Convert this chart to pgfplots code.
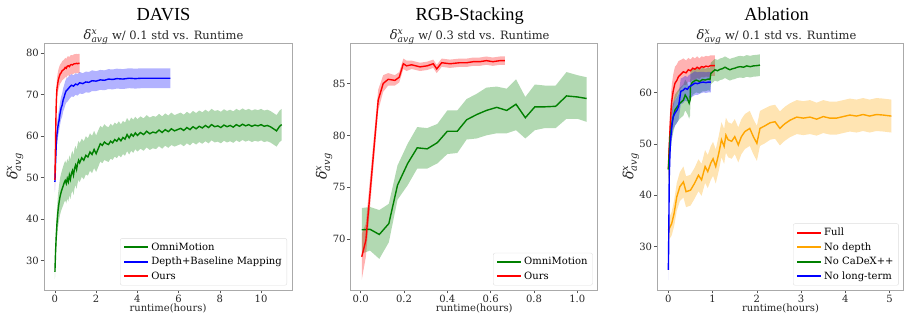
\documentclass[border=0pt]{standalone}
\usepackage{amsmath}
\usepackage{fontspec}
\setmainfont{DejaVu Serif}
\newfontfamily\titlefont{Liberation Serif}
\usepackage{pgfplots}
\usepackage{pgfplotstable}
\pgfplotsset{compat=1.18}
\usepgfplotslibrary{fillbetween}

\definecolor{mgreen}{HTML}{008000}
\definecolor{mred}{HTML}{FF0000}
\definecolor{mblue}{HTML}{0000FF}
\definecolor{morange}{HTML}{FFA500}
\definecolor{spine}{HTML}{AAAAAA}
\definecolor{tickc}{HTML}{555555}
\definecolor{txt}{HTML}{262626}
\definecolor{legbox}{HTML}{DDDDDD}

% delta^x_avg in DejaVu Serif Italic (as matplotlib mathtext)
\newcommand{\dlt}{\textit{δ}\ensuremath{^{\textit{x}}_{\textit{avg}}}}

% ---------------- DAVIS ----------------
\pgfplotstableread{
h m s
0.00 27.3 1.8
0.03 32 2.5
0.06 35.5 3
0.10 39 3.5
0.15 42 4
0.20 44 4.2
0.25 45.5 4.4
0.30 46.5 4.5
0.35 47.3 4.6
0.40 48.0 4.7
0.45 48.8 4.7
0.50 49.3 4.8
0.55 48.6 4.8
0.60 49.8 4.8
0.65 49.0 4.8
0.70 50.6 4.8
0.75 49.6 4.8
0.80 51.0 4.8
0.85 51.7 4.8
0.90 50.6 4.8
0.95 52.2 4.8
1.00 53.0 4.7
1.05 52.0 4.7
1.10 53.4 4.7
1.15 54.2 4.7
1.20 53.6 4.7
1.30 54.8 4.6
1.40 54.2 4.6
1.50 55.4 4.6
1.60 55.0 4.5
1.70 56.2 4.5
1.80 55.6 4.5
1.90 56.8 4.5
2.00 55.8 4.4
2.10 57.0 4.4
2.20 58.2 4.3
2.30 57.8 4.3
2.40 58.6 4.3
2.50 58.2 4.2
2.60 58.0 4.2
2.70 58.8 4.2
2.80 58.4 4.1
2.90 59.2 4.1
3.00 58.8 4.1
3.10 59.5 4.1
3.20 58.9 4.0
3.30 59.7 4.0
3.40 59.3 4.0
3.50 60.4 4.0
3.60 59.6 4.0
3.70 60.5 4.0
3.80 60.0 4.0
3.90 60.8 3.9
4.00 60.2 3.9
4.15 60.9 3.9
4.30 60.4 3.9
4.45 61.2 3.9
4.60 60.6 3.9
4.75 61.0 3.9
4.90 60.8 3.9
5.05 61.5 3.9
5.20 60.9 3.9
5.35 61.6 3.9
5.50 61.1 3.9
5.65 61.8 3.9
5.80 61.3 3.8
5.95 61.6 3.8
6.10 61.9 3.8
6.25 61.4 3.8
6.40 62.1 3.8
6.55 61.6 3.8
6.70 62.3 3.8
6.85 61.8 3.8
7.00 62.4 3.8
7.15 62.0 3.8
7.30 62.6 3.8
7.45 62.1 3.8
7.60 62.8 3.8
7.75 62.3 3.8
7.90 62.5 3.8
8.05 62.1 3.8
8.20 62.7 3.8
8.35 62.3 3.8
8.50 62.6 3.8
8.65 62.2 3.8
8.80 62.8 3.8
8.95 62.4 3.8
9.10 62.9 3.8
9.25 62.5 3.8
9.40 62.8 3.8
9.55 62.4 3.8
9.70 62.7 3.8
9.85 62.5 3.8
10.00 62.8 3.8
10.15 62.4 3.8
10.30 62.6 3.8
10.45 62.3 3.8
10.60 61.8 3.8
10.75 61.3 3.8
10.90 62.4 3.8
11.00 62.8 3.8
}\dGreen

\pgfplotstableread{
h m s
0.00 49 2.5
0.02 52 2.5
0.04 55 2.5
0.07 58.5 2.5
0.10 60.5 2.5
0.15 62.5 2.6
0.20 63.8 2.6
0.25 65.5 2.7
0.30 66.8 2.7
0.35 67.5 2.8
0.40 68.8 2.8
0.45 69.5 2.9
0.50 70.4 2.9
0.55 71.0 2.9
0.60 71.2 2.9
0.70 71.8 2.8
0.80 72.3 2.7
0.90 72.1 2.6
1.00 72.6 2.6
1.10 72.4 2.6
1.20 72.9 2.6
1.35 72.7 2.5
1.50 73.1 2.5
1.65 73.0 2.5
1.80 73.4 2.5
2.00 73.3 2.4
2.20 73.6 2.4
2.40 73.5 2.4
2.60 73.8 2.4
2.80 73.7 2.4
3.00 73.9 2.4
3.30 73.8 2.4
3.60 74.0 2.4
3.90 73.9 2.4
4.20 74.0 2.4
4.50 74.0 2.4
4.80 74.0 2.4
5.10 74.0 2.4
5.40 74.0 2.4
5.60 74.0 2.4
}\dBlue

\pgfplotstableread{
h m s
0.00 49.5 2.5
0.02 55 3
0.04 62 3
0.06 67 2.8
0.08 70 2.6
0.10 71.5 2.5
0.13 72.5 2.5
0.16 73.5 2.4
0.20 74.2 2.4
0.25 75.0 2.3
0.30 75.3 2.3
0.35 75.8 2.3
0.40 76.0 2.3
0.45 76.2 2.3
0.50 76.6 2.3
0.55 76.4 2.3
0.60 76.9 2.3
0.65 77.0 2.3
0.70 76.8 2.3
0.75 77.2 2.3
0.80 77.3 2.3
0.85 77.2 2.3
0.90 77.4 2.3
0.95 77.5 2.3
1.00 77.5 2.3
1.05 77.6 2.3
1.10 77.5 2.3
1.15 77.6 2.3
1.20 77.6 2.3
}\dRed

% ---------------- RGB-Stacking ----------------
\pgfplotstableread{
h m lo hi
0.005 70.9 68.6 73.0
0.043 70.95 68.9 73.1
0.086 70.45 68.1 72.8
0.130 71.5 69.7 73.4
0.170 75.2 73.8 77.1
0.217 77.3 75.2 79.2
0.261 78.8 76.8 80.8
0.307 78.7 76.8 80.7
0.354 79.3 77.3 81.1
0.400 80.4 78.2 82.4
0.446 80.4 78.3 82.4
0.489 81.5 79.6 83.5
0.535 82.0 79.7 84.0
0.580 82.4 80.0 84.6
0.628 82.7 80.2 84.7
0.674 82.4 80.2 84.5
0.717 83.0 80.5 85.4
0.760 81.7 79.7 83.7
0.804 82.75 80.5 84.9
0.850 82.75 80.7 84.8
0.900 82.8 80.7 84.8
0.950 83.8 81.6 86.1
1.000 83.7 81.6 85.8
1.043 83.55 81.3 85.6
}\rGreen

\pgfplotstableread{
h m s
0.005 68.3 2.2
0.024 69.9 1.6
0.081 83.4 1.0
0.104 85.0 0.8
0.127 85.4 0.6
0.158 85.3 0.5
0.178 85.6 0.5
0.197 86.9 0.5
0.212 86.7 0.5
0.235 86.8 0.4
0.274 86.6 0.4
0.307 86.7 0.4
0.335 86.9 0.4
0.351 86.4 0.4
0.374 87.0 0.4
0.412 86.9 0.4
0.458 87.0 0.4
0.490 87.0 0.4
0.520 87.1 0.4
0.550 87.1 0.4
0.580 87.2 0.4
0.610 87.1 0.4
0.643 87.2 0.4
0.666 87.2 0.4
}\rRed

% ---------------- Ablation ----------------
\pgfplotstableread{
h m s
0.00 45.2 3
0.02 49.5 3.2
0.04 53.3 3.2
0.06 56.5 3.2
0.08 58.5 3.2
0.11 60.3 3.2
0.15 61.8 3.2
0.19 62.3 3.1
0.23 63.1 3.0
0.28 63.5 2.8
0.34 64.0 2.6
0.40 63.8 2.4
0.45 64.4 2.3
0.50 64.2 2.2
0.55 64.7 2.2
0.60 64.5 2.1
0.65 64.9 2.1
0.70 64.6 2.0
0.75 65.0 2.0
0.80 64.9 2.0
0.85 65.1 2.0
0.90 65.0 2.0
0.95 65.2 2.0
1.00 65.2 2.0
1.05 65.2 2.0
}\aRed

\pgfplotstableread{
h m s
0.000 33.2 2.0
0.075 34.5 2.3
0.13 36.5 2.5
0.19 39.7 2.7
0.26 41.7 2.8
0.34 42.6 3.0
0.40 40.7 3.0
0.50 41.0 3.0
0.59 42.3 3.0
0.68 43.9 3.1
0.75 43.0 3.1
0.83 45.6 3.2
0.89 44.6 3.2
0.96 46.3 3.3
1.01 47.1 3.3
1.07 45.6 3.3
1.14 48.2 3.4
1.20 50.8 3.4
1.26 49.5 3.4
1.30 51.7 3.4
1.35 50.8 3.4
1.43 50.5 3.4
1.50 51.4 3.4
1.58 49.8 3.4
1.65 51.4 3.4
1.73 52.4 3.4
1.84 53.0 3.4
1.92 51.4 3.4
2.00 50.1 3.4
2.07 53.0 3.4
2.18 53.5 3.4
2.30 54.1 3.3
2.41 54.3 3.3
2.52 53.0 3.3
2.63 53.9 3.3
2.75 54.6 3.3
2.90 55.2 3.3
3.05 55.0 3.3
3.20 55.2 3.3
3.35 54.8 3.2
3.50 55.3 3.2
3.65 55.0 3.2
3.80 55.0 3.2
3.95 55.3 3.2
4.10 55.6 3.2
4.25 55.4 3.2
4.40 55.7 3.2
4.55 55.4 3.2
4.70 55.7 3.2
4.85 55.6 3.2
5.04 55.4 3.2
}\aOrange

\pgfplotstableread{
h m s
0.00 45 3
0.02 48 3
0.04 51.4 3
0.08 54 3
0.12 55.6 3
0.15 56.6 3
0.20 57.2 3
0.26 57.9 3
0.30 58.2 3
0.34 58.5 3
0.38 59.5 3
0.43 58.8 3
0.47 57.9 3
0.49 58.5 3
0.50 61.1 2.8
0.53 61.8 2.6
0.56 62.1 2.5
0.63 62.4 2.4
0.71 62.1 2.3
0.77 62.5 2.3
0.83 62.4 2.2
0.90 62.6 2.2
0.94 62.5 2.2
0.96 63.7 2.1
1.00 64.0 2.1
1.05 64.4 2.1
1.11 64.2 2.1
1.17 64.5 2.1
1.22 64.6 2.1
1.28 64.9 2.1
1.34 64.6 2.1
1.39 64.4 2.1
1.45 64.6 2.1
1.50 64.7 2.1
1.56 64.9 2.1
1.62 65.0 2.1
1.70 64.9 2.1
1.77 65.15 2.1
1.85 65.0 2.1
1.92 65.15 2.1
2.00 65.2 2.1
2.07 65.3 2.1
}\aGreen

\pgfplotstableread{
h m s
0.00 25.5 2
0.01 33 2.5
0.02 43.6 2.5
0.035 48 2.5
0.05 50.8 2.5
0.08 53.5 2.5
0.11 55.3 2.5
0.15 56.0 2.5
0.19 56.5 2.5
0.23 57.2 2.5
0.26 59.0 2.5
0.28 60.2 2.5
0.33 60.4 2.5
0.38 60.8 2.4
0.43 60.6 2.4
0.47 61.1 2.3
0.53 61.4 2.3
0.60 61.8 2.3
0.66 61.7 2.2
0.72 61.9 2.1
0.79 62.0 2.0
0.85 61.9 2.0
0.90 62.0 2.0
0.96 62.0 2.0
}\aBlue

\pgfplotsset{
  myaxis/.style={
    scale only axis, height=247pt,
    axis line style={draw=spine, line width=0.8pt},
    tick style={draw=tickc, line width=0.6pt},
    tick align=outside, major tick length=3.5pt,
    xtick pos=bottom, ytick pos=left,
    ticklabel style={font=\fontsize{10}{12}\selectfont, text=txt},
    xticklabel style={inner ysep=1.5pt},
    yticklabel style={inner xsep=1.5pt},
    /pgf/number format/assume math mode=true,
    xlabel={runtime(hours)},
    ylabel={\dlt},
    xlabel style={font=\fontsize{10}{12}\selectfont, text=txt, anchor=center},
    ylabel style={font=\fontsize{14}{16}\selectfont, text=txt, anchor=center},
    legend style={font=\fontsize{10}{12}\selectfont, draw=legbox, fill=white,
      rounded corners=2pt,
      at={(1,0)}, anchor=south east, xshift=-5pt, yshift=4.5pt,
      cells={anchor=west}, row sep=1.5pt, inner xsep=3pt, inner ysep=2.5pt},
    legend image code/.code={\draw[#1, line width=2pt, sharp corners] (0pt,0pt) -- (24pt,0pt);},
  },
}

\begin{document}
\begin{tikzpicture}

% ===== DAVIS =====
\begin{axis}[myaxis, name=ax1, at={(44pt,25pt)}, anchor=south west, width=248pt,
  xmin=-0.53, xmax=11.5, ymin=22.9, ymax=82.5,
  xtick={0,2,4,6,8,10}, ytick={30,40,50,60,70,80},
  xlabel style={at={(axis description cs:0.5,-0.073)}},
  ylabel style={at={(axis description cs:-0.117,0.5)}}]
\addplot[draw=none, name path=dgU, forget plot] table[x=h, y expr=\thisrow{m}+\thisrow{s}] {\dGreen};
\addplot[draw=none, name path=dgL, forget plot] table[x=h, y expr=\thisrow{m}-\thisrow{s}] {\dGreen};
\addplot[fill=mgreen, fill opacity=0.3, draw=none, forget plot] fill between[of=dgU and dgL];
\addplot[draw=none, name path=dbU, forget plot] table[x=h, y expr=\thisrow{m}+\thisrow{s}] {\dBlue};
\addplot[draw=none, name path=dbL, forget plot] table[x=h, y expr=\thisrow{m}-\thisrow{s}] {\dBlue};
\addplot[fill=mblue, fill opacity=0.3, draw=none, forget plot] fill between[of=dbU and dbL];
\addplot[draw=none, name path=drU, forget plot] table[x=h, y expr=\thisrow{m}+\thisrow{s}] {\dRed};
\addplot[draw=none, name path=drL, forget plot] table[x=h, y expr=\thisrow{m}-\thisrow{s}] {\dRed};
\addplot[fill=mred, fill opacity=0.3, draw=none, forget plot] fill between[of=drU and drL];
\addplot[mgreen, line width=1.4pt, forget plot] table[x=h, y=m] {\dGreen};
\addplot[mblue, line width=1.4pt, forget plot] table[x=h, y=m] {\dBlue};
\addplot[mred, line width=1.4pt, forget plot] table[x=h, y=m] {\dRed};
\addlegendimage{draw=mgreen}
\addlegendentry{OmniMotion}
\addlegendimage{draw=mblue}
\addlegendentry{Depth+Baseline Mapping}
\addlegendimage{draw=mred}
\addlegendentry{Ours}
\end{axis}
\node[font=\titlefont\fontsize{18.4}{22}\selectfont, anchor=base, text=black] at ([xshift=-4.5pt, yshift=22.3pt]ax1.north) {DAVIS};
\node[font=\fontsize{11.5}{13}\selectfont, anchor=base, text=txt] at ([xshift=-4.5pt, yshift=3.7pt]ax1.north) {{\fontsize{13}{14}\selectfont\dlt}\ w/ 0.1 std vs. Runtime};

% ===== RGB-Stacking =====
\begin{axis}[myaxis, name=ax2, at={(350.7pt,25pt)}, anchor=south west, width=247pt,
  xmin=-0.046, xmax=1.094, ymin=65.1, ymax=88.9,
  xtick={0,0.2,0.4,0.6,0.8,1.0}, xticklabels={0.0,0.2,0.4,0.6,0.8,1.0},
  ytick={70,75,80,85},
  xlabel style={at={(axis description cs:0.5,-0.073)}},
  ylabel style={at={(axis description cs:-0.108,0.5)}}]
\addplot[draw=none, name path=rgU, forget plot] table[x=h, y=hi] {\rGreen};
\addplot[draw=none, name path=rgL, forget plot] table[x=h, y=lo] {\rGreen};
\addplot[fill=mgreen, fill opacity=0.3, draw=none, forget plot] fill between[of=rgU and rgL];
\addplot[draw=none, name path=rrU, forget plot] table[x=h, y expr=\thisrow{m}+\thisrow{s}] {\rRed};
\addplot[draw=none, name path=rrL, forget plot] table[x=h, y expr=\thisrow{m}-\thisrow{s}] {\rRed};
\addplot[fill=mred, fill opacity=0.3, draw=none, forget plot] fill between[of=rrU and rrL];
\addplot[mgreen, line width=1.4pt, forget plot] table[x=h, y=m] {\rGreen};
\addplot[mred, line width=1.4pt, forget plot] table[x=h, y=m] {\rRed};
\addlegendimage{draw=mgreen}
\addlegendentry{OmniMotion}
\addlegendimage{draw=mred}
\addlegendentry{Ours}
\end{axis}
\node[font=\titlefont\fontsize{18.4}{22}\selectfont, anchor=base, text=black] at ([xshift=-4.5pt, yshift=22.3pt]ax2.north) {RGB-Stacking};
\node[font=\fontsize{11.5}{13}\selectfont, anchor=base, text=txt] at ([xshift=-4.5pt, yshift=3.7pt]ax2.north) {{\fontsize{13}{14}\selectfont\dlt}\ w/ 0.3 std vs. Runtime};

% ===== Ablation =====
\begin{axis}[myaxis, name=ax3, at={(657.3pt,25pt)}, anchor=south west, width=246.5pt,
  xmin=-0.25, xmax=5.32, ymin=21.6, ymax=69.6,
  xtick={0,1,2,3,4,5}, ytick={30,40,50,60},
  xlabel style={at={(axis description cs:0.5,-0.073)}},
  ylabel style={at={(axis description cs:-0.107,0.5)}}]
\addplot[draw=none, name path=aoU, forget plot] table[x=h, y expr=\thisrow{m}+\thisrow{s}] {\aOrange};
\addplot[draw=none, name path=aoL, forget plot] table[x=h, y expr=\thisrow{m}-\thisrow{s}] {\aOrange};
\addplot[fill=morange, fill opacity=0.3, draw=none, forget plot] fill between[of=aoU and aoL];
\addplot[draw=none, name path=arU, forget plot] table[x=h, y expr=\thisrow{m}+\thisrow{s}] {\aRed};
\addplot[draw=none, name path=arL, forget plot] table[x=h, y expr=\thisrow{m}-\thisrow{s}] {\aRed};
\addplot[fill=mred, fill opacity=0.3, draw=none, forget plot] fill between[of=arU and arL];
\addplot[draw=none, name path=agU, forget plot] table[x=h, y expr=\thisrow{m}+\thisrow{s}] {\aGreen};
\addplot[draw=none, name path=agL, forget plot] table[x=h, y expr=\thisrow{m}-\thisrow{s}] {\aGreen};
\addplot[fill=mgreen, fill opacity=0.3, draw=none, forget plot] fill between[of=agU and agL];
\addplot[draw=none, name path=abU, forget plot] table[x=h, y expr=\thisrow{m}+\thisrow{s}] {\aBlue};
\addplot[draw=none, name path=abL, forget plot] table[x=h, y expr=\thisrow{m}-\thisrow{s}] {\aBlue};
\addplot[fill=mblue, fill opacity=0.3, draw=none, forget plot] fill between[of=abU and abL];
\addplot[morange, line width=1.4pt, forget plot] table[x=h, y=m] {\aOrange};
\addplot[mred, line width=1.4pt, forget plot] table[x=h, y=m] {\aRed};
\addplot[mgreen, line width=1.4pt, forget plot] table[x=h, y=m] {\aGreen};
\addplot[mblue, line width=1.4pt, forget plot] table[x=h, y=m] {\aBlue};
\addlegendimage{draw=mred}
\addlegendentry{Full}
\addlegendimage{draw=morange}
\addlegendentry{No depth}
\addlegendimage{draw=mgreen}
\addlegendentry{No CaDeX++}
\addlegendimage{draw=mblue}
\addlegendentry{No long-term}
\end{axis}
\node[font=\titlefont\fontsize{18.4}{22}\selectfont, anchor=base, text=black] at ([xshift=-4pt, yshift=22.3pt]ax3.north) {Ablation};
\node[font=\fontsize{11.5}{13}\selectfont, anchor=base, text=txt] at ([xshift=-4pt, yshift=3.7pt]ax3.north) {{\fontsize{13}{14}\selectfont\dlt}\ w/ 0.1 std vs. Runtime};

\pgfresetboundingbox
\path[use as bounding box] (0,0) rectangle (905pt,315pt);
\end{tikzpicture}
\end{document}
